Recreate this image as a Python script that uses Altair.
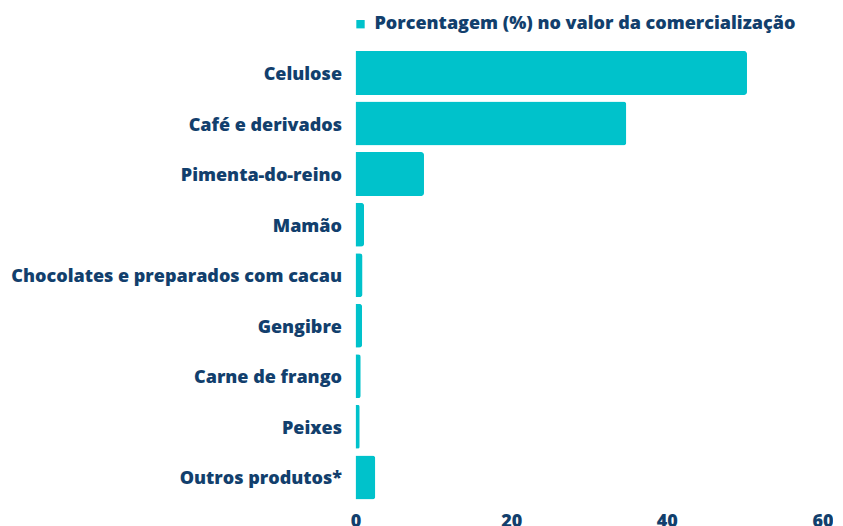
import altair as alt
import pandas as pd

categorias = ["Celulose", "Café e derivados", "Pimenta-do-reino", "Mamão",
              "Chocolates e preparados com cacau", "Gengibre", "Carne de frango",
              "Peixes", "Outros produtos*"]
valores = [50.3, 34.8, 8.8, 1.1, 0.9, 0.85, 0.67, 0.54, 2.55]
serie = "Porcentagem (%) no valor da comercialização"
ticks_x = [0, 20, 40, 60]

df = pd.DataFrame({"produto": categorias, "valor": valores, "serie": serie})

TXT = "#123f6d"
BAR = "#00c2cb"
FONT = "Open Sans"
W = 800
FS = 18

chart = alt.Chart(df).mark_bar(cornerRadiusEnd=3, color=BAR).encode(
    y=alt.Y("produto:N", sort=categorias, title=None,
            scale=alt.Scale(paddingInner=0.13, paddingOuter=0.065),
            axis=alt.Axis(domain=False, ticks=False, labelPadding=14, labelOffset=2,
                          labelFont=FONT, labelFontSize=FS, labelFontWeight=W,
                          labelColor=TXT, labelLimit=400)),
    x=alt.X("valor:Q", title=None,
            scale=alt.Scale(domain=[0, 60], nice=False),
            axis=alt.Axis(values=ticks_x, grid=False, domain=False, ticks=False,
                          labelFlush=False,
                          labelPadding=10, labelFont=FONT, labelFontSize=FS,
                          labelFontWeight=W, labelColor=TXT)),
    color=alt.Color("serie:N", scale=alt.Scale(range=[BAR]),
                    legend=alt.Legend(title=None, orient="none", legendX=-4, legendY=-32.5,
                                      symbolType="square", symbolSize=70,
                                      symbolStrokeWidth=0, padding=0,
                                      labelFont=FONT, labelFontSize=FS,
                                      labelFontWeight=W, labelColor=TXT,
                                      labelLimit=600, labelOffset=5)),
).properties(
    width=467, height=455,
    autosize=alt.AutoSizeParams(type="none"),
    padding={"left": 347.5, "top": 39.7, "right": 10, "bottom": 40},
    background="white",
).configure_view(stroke=None)

chart.save("out.html", embed_options={"renderer": "svg", "actions": False})
